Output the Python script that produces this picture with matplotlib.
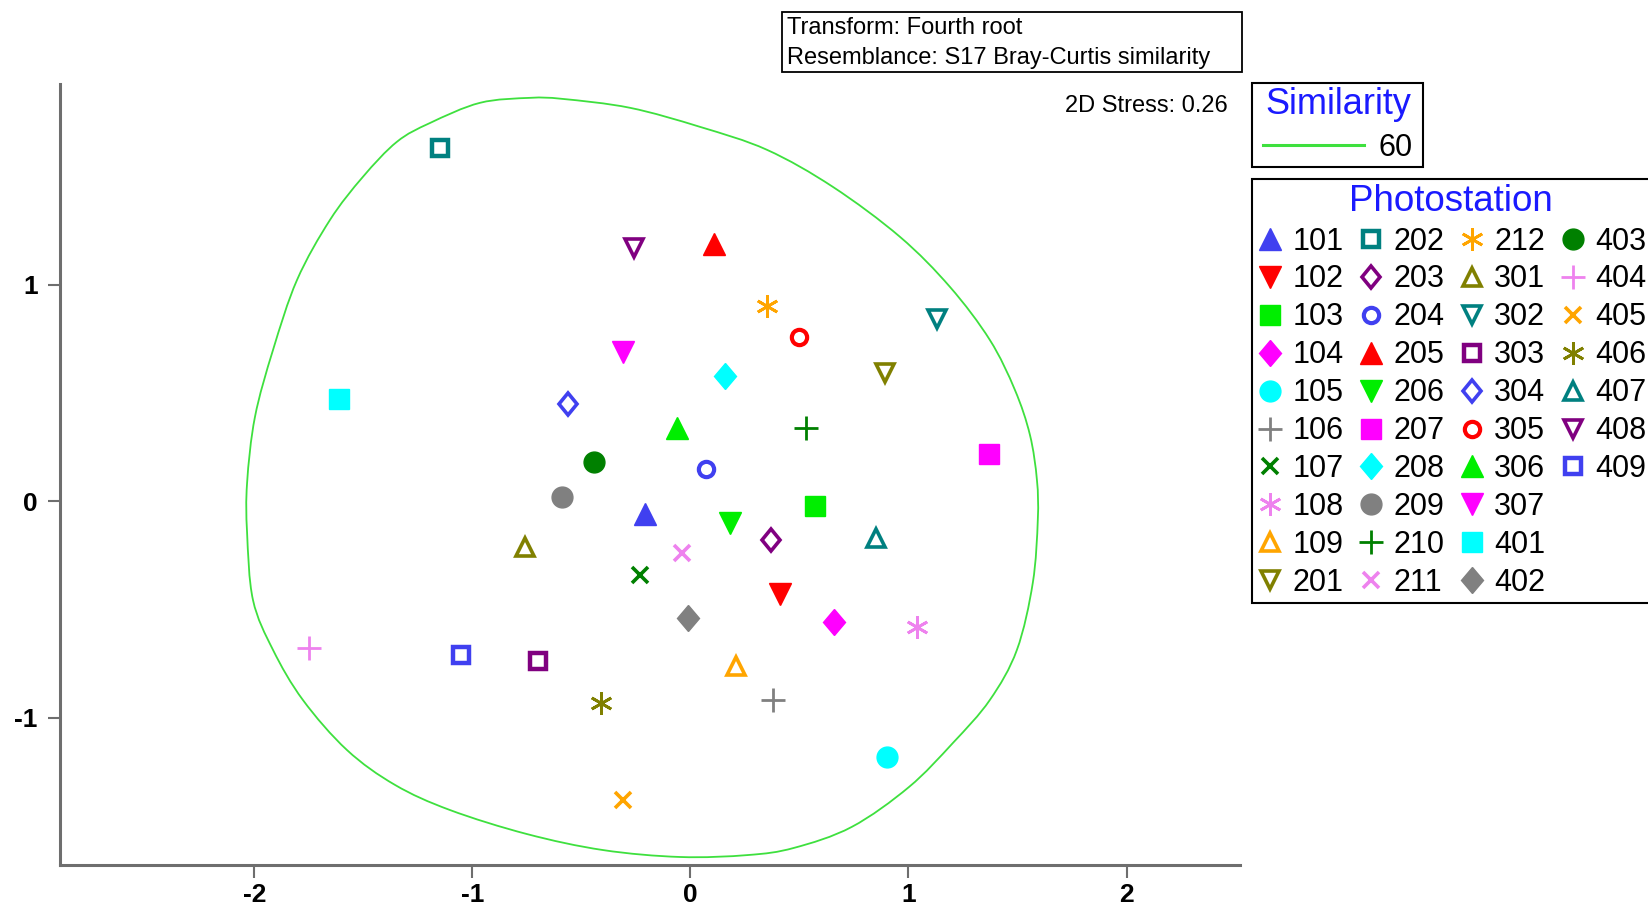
import numpy as np
import matplotlib.pyplot as plt
from matplotlib.lines import Line2D
from matplotlib.markers import MarkerStyle
from matplotlib.patches import PathPatch, Rectangle
from matplotlib.path import Path
from matplotlib.transforms import Affine2D

plt.rcParams['font.family'] = ['Liberation Sans', 'DejaVu Sans']
plt.rcParams['axes.unicode_minus'] = False

# nMDS ordination of the photostations
stations = ['101', '102', '103', '104', '105', '106', '107', '108', '109',
            '201', '202', '203', '204', '205', '206', '207', '208', '209',
            '210', '211', '212',
            '301', '302', '303', '304', '305', '306', '307',
            '401', '402', '403', '404', '405', '406', '407', '408', '409']
mds_x = [-0.21, 0.41, 0.57, 0.66, 0.90, 0.38, -0.23, 1.04, 0.21,
         0.89, -1.15, 0.37, 0.07, 0.11, 0.18, 1.37, 0.16, -0.59,
         0.53, -0.04, 0.35,
         -0.76, 1.13, -0.70, -0.56, 0.50, -0.06, -0.31,
         -1.61, -0.01, -0.44, -1.75, -0.31, -0.41, 0.85, -0.26, -1.05]
mds_y = [-0.06, -0.43, -0.02, -0.56, -1.18, -0.92, -0.34, -0.58, -0.76,
         0.59, 1.63, -0.18, 0.15, 1.19, -0.10, 0.22, 0.58, 0.02,
         0.34, -0.24, 0.90,
         -0.21, 0.84, -0.74, 0.45, 0.76, 0.34, 0.69,
         0.47, -0.54, 0.18, -0.68, -1.38, -0.93, -0.17, 1.17, -0.71]

# 60% similarity outline (clockwise from the top)
contour_x = [-0.736, -0.585, -0.277, 0.044, 0.351, 0.653, 0.961, 1.190,
             1.373, 1.488, 1.557, 1.589, 1.593, 1.570, 1.497, 1.373, 1.204,
             1.002, 0.740, 0.475, 0.264, -0.048, -0.401, -0.750, -1.103,
             -1.355, -1.575, -1.777, -1.914, -2.006, -2.033, -2.033, -1.997,
             -1.914, -1.804, -1.653, -1.502, -1.346, -1.194, -0.965]
contour_y = [1.863, 1.858, 1.817, 1.729, 1.623, 1.452, 1.221, 0.990,
             0.745, 0.514, 0.306, 0.098, -0.086, -0.377, -0.687, -0.918,
             -1.116, -1.320, -1.504, -1.601, -1.634, -1.643, -1.611, -1.537,
             -1.426, -1.310, -1.149, -0.918, -0.687, -0.456, -0.146, 0.085,
             0.389, 0.699, 1.022, 1.299, 1.498, 1.660, 1.747, 1.840]
similarity_level = '60'

colours = ['#4040f0', '#ff0000', '#00ee00', '#ff00ff', '#00ffff', '#808080',
           '#008000', '#ee82ee', '#ffa500', '#808000', '#008080', '#800080']
tall_diamond = MarkerStyle('D', transform=Affine2D().scale(0.82, 1.0))
asterisk = (6, 2, 0)
# marker, filled, size, edge width
symbols = [('^', True, 15.5, 1), ('v', True, 15.5, 1), ('s', True, 14, 1),
           (tall_diamond, True, 13.5, 1), ('o', True, 15, 1),
           ('+', True, 17, 2), ('x', True, 12, 2.6), (asterisk, True, 16, 2),
           ('^', False, 12.5, 2.6), ('v', False, 12.5, 2.6),
           ('s', False, 11, 3.2), (tall_diamond, False, 11, 2.6),
           ('o', False, 11, 3.0)]
contour_colour = '#3ee03e'


def closed_curve(xs, ys):
    """Smooth closed Bezier path running through the given vertices."""
    pts = np.column_stack([xs, ys])
    n = len(pts)
    verts = [pts[0]]
    codes = [Path.MOVETO]
    for i in range(n):
        p0, p1, p2, p3 = pts[i - 1], pts[i], pts[(i + 1) % n], pts[(i + 2) % n]
        verts += [p1 + (p2 - p0) / 6, p2 - (p3 - p1) / 6, p2]
        codes += [Path.CURVE4] * 3
    return Path(verts, codes)


fig = plt.figure(figsize=(16.48, 9.11), dpi=100)
ax = fig.add_axes([0.0364, 0.0505, 0.7160, 0.8573])

ax.add_patch(PathPatch(closed_curve(contour_x, contour_y), fill=False,
                       ec=contour_colour, lw=1.3, zorder=1))

point_handles = []
for i, name in enumerate(stations):
    m, filled, ms, mew = symbols[i % len(symbols)]
    c = colours[i % len(colours)]
    h, = ax.plot(mds_x[i], mds_y[i], ls='none', marker=m, ms=ms, mew=mew,
                 color=c, mec=c, mfc=c if filled else 'none', label=name,
                 zorder=3)
    point_handles.append(h)

ax.set_xlim(-2.891, 2.520)
ax.set_ylim(-1.680, 1.927)
ax.set_xticks([-2, -1, 0, 1, 2])
ax.set_yticks([-1, 0, 1])
for side in ['top', 'right']:
    ax.spines[side].set_visible(False)
for side in ['left', 'bottom']:
    ax.spines[side].set_color('#6e6e6e')
    ax.spines[side].set_linewidth(2.2)
ax.tick_params(direction='out', length=9, width=1.5, color='#6e6e6e',
               labelsize=19)
ax.tick_params(axis='y', pad=7)
ax.tick_params(axis='x', pad=4)
for lab in ax.get_xticklabels() + ax.get_yticklabels():
    lab.set_fontweight('bold')

# analysis notes
fig.patches.append(Rectangle((782 / 1648, 1 - 72 / 911), 460 / 1648, 60 / 911,
                             transform=fig.transFigure, fill=False,
                             ec='black', lw=1.3))
fig.text(787 / 1648, 1 - 28 / 911, 'Transform: Fourth root', fontsize=17,
         va='center', ha='left')
fig.text(787 / 1648, 1 - 58 / 911, 'Resemblance: S17 Bray-Curtis similarity',
         fontsize=17, va='center', ha='left')
fig.text(1228 / 1648, 1 - 106.5 / 911, '2D Stress: 0.26', fontsize=17,
         va='center', ha='right')

# similarity legend, framed separately
fig.patches.append(Rectangle((1252 / 1648, 1 - 167 / 911), 171 / 1648,
                             84 / 911, transform=fig.transFigure, fill=False,
                             ec='black', lw=1.5))
sim_handle = Line2D([], [], color=contour_colour, lw=2.2)
leg1 = fig.legend([sim_handle], [similarity_level], loc='center',
                  bbox_to_anchor=(1338 / 1648, 1 - 125 / 911), borderaxespad=0,
                  fontsize=22, title='Similarity', title_fontsize=26,
                  handlelength=3.3, handletextpad=0.5, borderpad=0,
                  labelspacing=0.35, frameon=False)
leg1.get_title().set_color('#1a1aff')

blank = [Line2D([], [], ls='none', marker='') for _ in range(3)]
leg2 = fig.legend(point_handles + blank, stations + ['', '', ''], ncol=4,
                  loc='upper left', bbox_to_anchor=(1252 / 1648, 1 - 179 / 911),
                  borderaxespad=0, fontsize=22, title='Photostation',
                  title_fontsize=26.5, handlelength=0.9, handletextpad=0.27,
                  columnspacing=0.46, labelspacing=0.26, borderpad=0.15,
                  fancybox=False, framealpha=1, edgecolor='black')
leg2.get_title().set_color('#1a1aff')
leg2.get_frame().set_linewidth(1.5)

fig.savefig('out.png', dpi=100)
